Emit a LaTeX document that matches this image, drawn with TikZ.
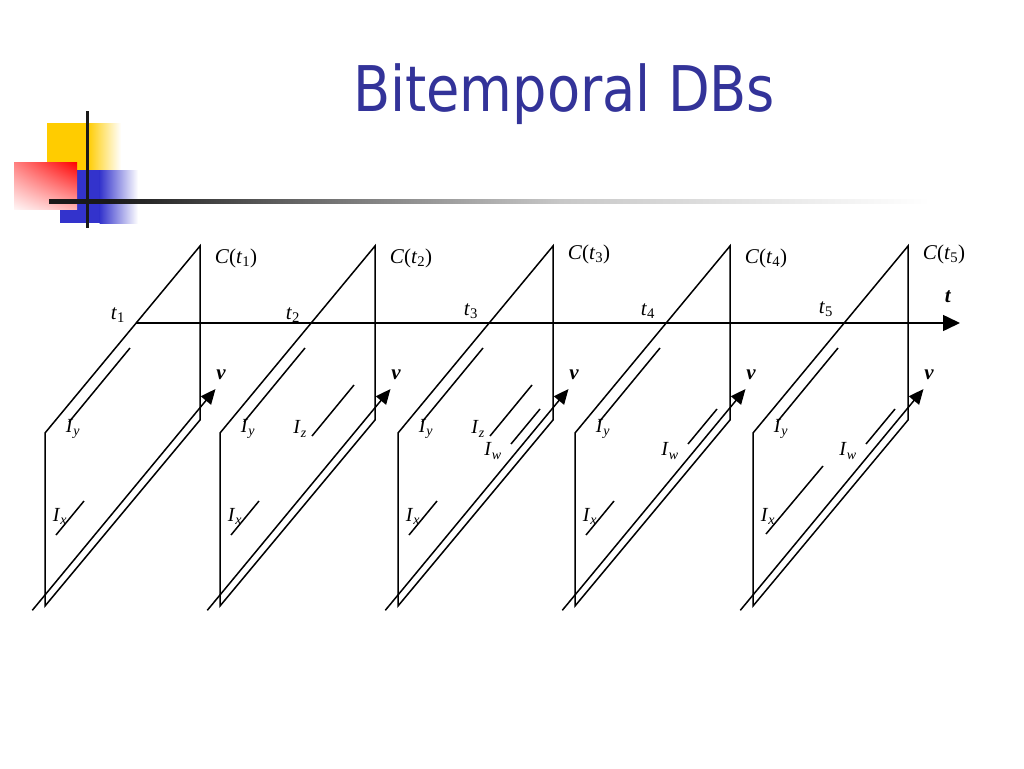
\documentclass[tikz,border=0pt]{standalone}
\usepackage{fontspec}
\usepackage{graphicx}
\setmainfont{Liberation Serif}
\newfontfamily\titlefont{DejaVu Sans}
\usetikzlibrary{arrows.meta,shadings}
\definecolor{titleblue}{RGB}{51,51,153}
\definecolor{logoyellow}{RGB}{255,204,0}
\definecolor{logoblue}{RGB}{51,51,204}
\begin{document}
\begin{tikzpicture}[x=1pt,y=-1pt,
  ln/.style={line width=1.5pt},
  tipv/.style={-{Triangle[length=15pt,width=13pt]}},
  tipt/.style={-{Triangle[length=17pt,width=16pt]}},
  lab/.style={font=\fontsize{21}{24}\selectfont, inner sep=0pt},
  ilab/.style={font=\fontsize{20}{24}\selectfont, inner sep=0pt}]
\useasboundingbox[fill=white] (0,0) rectangle (1024,768);

% ---------- logo ----------
\fill[logoyellow] (47,123) rectangle (88,170);
\shade[left color=logoyellow, right color=white] (87.5,123) rectangle (121,170);
\fill[logoblue] (60,170) rectangle (100,223);
\shade[left color=logoblue, right color=white] (99.5,170) rectangle (138,223);
\shade[upper right=red, upper left=red!50, lower right=red!30, lower left=red!4] (14,162) rectangle (77,209);
\fill[black!90] (85.5,111) rectangle (89,228);
\fill[black!90] (49,199) rectangle (110,203.5);
\shade[left color=black!90, right color=black!55] (109.5,199) rectangle (330,203.5);
\shade[left color=black!55, right color=black!22] (329.5,199) rectangle (560,203.5);
\shade[left color=black!22, right color=white] (559.5,199) rectangle (930,203.5);

% ---------- title ----------
\node[anchor=base west, inner sep=0pt, text=titleblue] (title) at (353,111)
  {\scalebox{0.86}[1]{\titlefont\fontsize{63}{70}\selectfont Bitemporal DBs}};

% ---------- panels ----------
\foreach \R/\k/\cy/\ty in {200/1/258/315, 375/2/258/315, 553/3/254/311, 730/4/258/311, 908/5/254/309}{
  \coordinate (TR\k) at (\R,246);
  \coordinate (BR\k) at (\R,420);
  \coordinate (TL\k) at (\R-155,433);
  \coordinate (BL\k) at (\R-155,606);
  \coordinate (VS\k) at (\R-167.7,610.3);
  \coordinate (VE\k) at (\R+15.5,389);
  \draw[ln] (BL\k) -- (TL\k) -- (TR\k) -- (BR\k) -- cycle;
  \draw[ln,tipv] (VS\k) -- (VE\k);
  \node[lab] (C\k) at (\R+36,\cy) {\textit{C}(\textit{t}\textsubscript{\k})};
  \node[lab] (t\k) at (\R-82,\ty) {\textit{t}\textsubscript{\k}};
  \node[lab] (v\k) at (\R+21,375) {\textbf{\textit{v}}};
  \draw[ln] (\R-70,348) -- (\R-131,422);
  \node[ilab] (Iy\k) at (\R-127,429) {\textit{I}\textsubscript{\textit{y}}};
  \node[ilab] (Ix\k) at (\R-140,516) {\textit{I}\textsubscript{\textit{x}}};
}

% time axis
\coordinate (tS) at (136.2,323);
\coordinate (tE) at (960,323.5);
\draw[ln,tipt] (tS) -- (tE |- tS);
\node[lab] (tlab) at (948,297) {\textbf{\textit{t}}};

% I_x intervals
\foreach \R in {200,375,553,730}{
  \draw[ln] (\R-116,501) -- (\R-144,535);
}
\draw[ln] (823,466) -- (766,534);

% I_z intervals
\foreach \R/\k in {375/2,553/3}{
  \draw[ln] (\R-21,385) -- (\R-63,436);
  \node[ilab] (Iz\k) at (\R-75,429) {\textit{I}\textsubscript{\textit{z}}};
}

% I_w intervals
\foreach \R/\k in {553/3,730/4,908/5}{
  \draw[ln] (\R-13,409) -- (\R-42,444);
  \node[ilab] (Iw\k) at (\R-60,451) {\textit{I}\textsubscript{\textit{w}}};
}
\end{tikzpicture}
\end{document}
